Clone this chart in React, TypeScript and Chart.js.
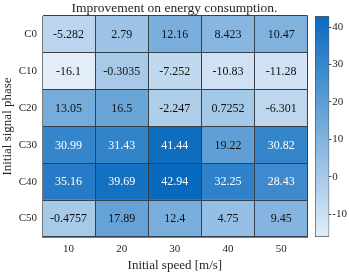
import React, { useEffect, useRef } from 'react';
import { Chart, registerables } from 'chart.js';

Chart.register(...registerables);

// ---- data ----
const titleText = 'Improvement on energy consumption.';
const xTitle = 'Initial speed [m/s]';
const yTitle = 'Initial signal phase';
const rowLabels = ['C0', 'C10', 'C20', 'C30', 'C40', 'C50'];
const speeds = [10, 20, 30, 40, 50];
const c0Values = [-5.282, 2.79, 12.16, 8.423, 10.47];
const c10Values = [-16.1, -0.3035, -7.252, -10.83, -11.28];
const c20Values = [13.05, 16.5, -2.247, 0.7252, -6.301];
const c30Values = [30.99, 31.43, 41.44, 19.22, 30.82];
const c40Values = [35.16, 39.69, 42.94, 32.25, 28.43];
const c50Values = [-0.4757, 17.89, 12.4, 4.75, 9.45];
const colorbarTicks = [-10, 0, 10, 20, 30, 40];

const values = [c0Values, c10Values, c20Values, c30Values, c40Values, c50Values];
const allValues = values.flat();
const vMin = Math.min(...allValues);
const vMax = Math.max(...allValues);

const lowRGB = [226, 237, 248];
const highRGB = [8, 106, 190];
function colorFor(v: number): string {
  const t = (v - vMin) / (vMax - vMin);
  const c = lowRGB.map((lo, k) => Math.round(lo + (highRGB[k] - lo) * t));
  return `rgb(${c[0]},${c[1]},${c[2]})`;
}

const SERIF = '"Liberation Serif", "Times New Roman", serif';
const textColor = '#262626';
const gridColor = '#37414b';
const frameColor = '#7a7a7a';

export default function App() {
  const mainRef = useRef<HTMLCanvasElement>(null);
  const cbRef = useRef<HTMLCanvasElement>(null);

  useEffect(() => {
    const textPlugin = {
      id: 'cellText',
      afterDraw(chart: any) {
        const ctx = chart.ctx;
        ctx.save();
        ctx.font = `12px ${SERIF}`;
        ctx.textAlign = 'center';
        ctx.textBaseline = 'middle';
        chart.data.datasets.forEach((_ds: any, j: number) => {
          const meta = chart.getDatasetMeta(j);
          meta.data.forEach((bar: any, i: number) => {
            const v = values[i][j];
            const p = bar.getProps(['x', 'y', 'base'], true);
            ctx.fillStyle = v > 25 ? '#ffffff' : '#111111';
            ctx.fillText(String(v), (p.x + p.base) / 2, p.y + 0.5);
          });
        });
        ctx.font = `13.5px ${SERIF}`;
        ctx.fillStyle = textColor;
        ctx.fillText(titleText, chart.width / 2, 8);
        ctx.restore();
      },
    };

    const main = new Chart(mainRef.current!, {
      type: 'bar',
      data: {
        labels: rowLabels,
        datasets: speeds.map((s, j) => ({
          label: String(s),
          data: rowLabels.map(() => [s - 5, s + 5]),
          backgroundColor: rowLabels.map((_r, i) => colorFor(values[i][j])),
          borderWidth: 0,
          grouped: false,
          barPercentage: 1,
          categoryPercentage: 1,
        })) as any,
      },
      options: {
        indexAxis: 'y',
        responsive: false,
        animation: false,
        layout: { padding: { top: 16, right: 41.3, left: 0, bottom: 0 } },
        plugins: {
          legend: { display: false },
          tooltip: { enabled: false },
          title: { display: false },
        },
        scales: {
          x: {
            type: 'linear',
            min: 5,
            max: 55,
            ticks: {
              stepSize: 5,
              autoSkip: false,
              maxRotation: 0,
              padding: 6,
              color: textColor,
              font: { family: SERIF, size: 11 },
              callback: (v: any) => (Number(v) % 10 === 0 ? String(v) : ''),
            },
            grid: {
              drawTicks: false,
              z: 1,
              color: (c: any) => (c.tick && Math.abs(Number(c.tick.value) % 10) === 5 ? gridColor : 'rgba(0,0,0,0)'),
            },
            border: { display: true, color: frameColor, z: 1 },
            title: {
              display: true,
              text: xTitle,
              color: textColor,
              font: { family: SERIF, size: 13 },
              padding: { top: 0, bottom: 0 },
            },
            afterFit: (s: any) => {
              s.height = 36;
            },
          },
          y: {
            type: 'category',
            offset: true,
            ticks: {
              padding: 5,
              color: textColor,
              font: { family: SERIF, size: 11 },
            },
            grid: { offset: true, drawTicks: false, z: 1, color: gridColor },
            border: { display: true, color: frameColor, z: 1 },
            title: {
              display: true,
              text: yTitle,
              color: textColor,
              font: { family: SERIF, size: 13 },
              padding: { top: 0, bottom: 0 },
            },
            afterFit: (s: any) => {
              s.width = 42;
            },
          },
        },
      } as any,
      plugins: [textPlugin],
    });

    const cb = new Chart(cbRef.current!, {
      type: 'bar',
      data: {
        labels: [''],
        datasets: [
          {
            data: [[vMin, vMax]] as any,
            backgroundColor: (c: any) => {
              const ca = c.chart.chartArea;
              if (!ca) return colorFor(vMin);
              const g = c.chart.ctx.createLinearGradient(0, ca.bottom, 0, ca.top);
              g.addColorStop(0, colorFor(vMin));
              g.addColorStop(1, colorFor(vMax));
              return g;
            },
            borderColor: '#555555',
            borderWidth: 1,
            borderSkipped: false,
            barPercentage: 1,
            categoryPercentage: 1,
          } as any,
        ],
      },
      options: {
        responsive: false,
        animation: false,
        layout: { padding: { left: 15, top: 16, bottom: 36, right: 0 } },
        plugins: { legend: { display: false }, tooltip: { enabled: false } },
        scales: {
          x: { display: false },
          y: {
            position: 'right',
            min: vMin,
            max: vMax,
            afterBuildTicks: (s: any) => {
              s.ticks = colorbarTicks.map((v) => ({ value: v }));
            },
            ticks: {
              padding: 1,
              color: textColor,
              font: { family: SERIF, size: 11 },
            },
            grid: { drawOnChartArea: false, drawTicks: true, tickLength: 2, color: '#444444' },
            border: { display: false },
            afterFit: (s: any) => {
              s.width = 19.7;
            },
          },
        },
      } as any,
    });

    return () => {
      main.destroy();
      cb.destroy();
    };
  }, []);

  return (
    <div style={{ position: 'fixed', left: 0, top: 0, width: 349, height: 273, background: '#fff' }}>
      <canvas ref={mainRef} width={349} height={273} style={{ position: 'absolute', left: 0, top: 0, display: 'block' }} />
      <canvas ref={cbRef} width={49} height={273} style={{ position: 'absolute', left: 300, top: 0, display: 'block' }} />
    </div>
  );
}
